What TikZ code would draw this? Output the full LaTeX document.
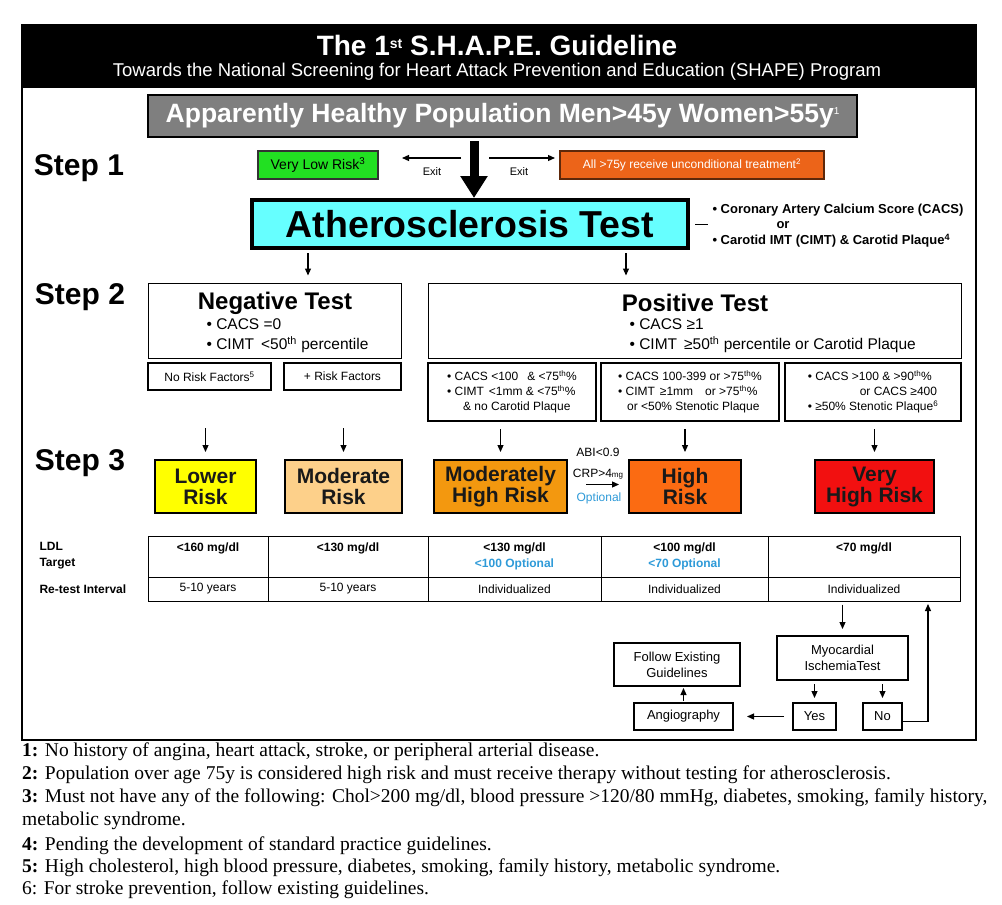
\documentclass[tikz,border=0pt]{standalone}
\usepackage{fontspec}
\setmainfont{Liberation Sans}
\newfontfamily\serifft{Liberation Serif}
\usetikzlibrary{arrows.meta}
\definecolor{popgray}{HTML}{7F7F7F}
\definecolor{vlgreen}{HTML}{22E022}
\definecolor{exitor}{HTML}{EC6419}
\definecolor{athcyan}{HTML}{66FFFF}
\definecolor{lowy}{HTML}{FFFF00}
\definecolor{modor}{HTML}{FDD08A}
\definecolor{mhor}{HTML}{F3980F}
\definecolor{hior}{HTML}{FB6B12}
\definecolor{vhred}{HTML}{F21010}
\definecolor{optblue}{HTML}{2E9AD8}
\newcommand{\fs}[2]{\fontsize{#1}{#2}\selectfont}
\newcommand{\sups}[2]{\raisebox{#1}{\fs{#2}{#2}\textbf{\kern0pt}}}
\newcommand{\bx}[7]{\node[#6, minimum width={#4-#2}, minimum height={#5-#3}, inner sep=0pt] (#1) at ({(#2+#4)/2},{(#3+#5)/2}) {#7};}
\tikzset{
  arr/.style={-{Triangle[length=7pt,width=6pt]}, line width=1.2pt},
  steplbl/.style={font=\fs{30}{34}\bfseries},
  smallbox/.style={draw, line width=2pt, font=\fs{12}{15}},
  risk/.style={draw, line width=2pt, font=\fs{21}{21}\bfseries, align=center, text=black!90},
  cell/.style={draw, line width=1pt, font=\fs{12}{14}},
  valb/.style={font=\fs{12}{16}\bfseries, align=center},
  foot/.style={anchor=west, font=\serifft\fs{19.5}{22}, inner sep=0pt},
}
\begin{document}
\begin{tikzpicture}[x=1pt,y=-1pt]
\useasboundingbox (0,0) rectangle (1002,905);
\fill[white] (0,0) rectangle (1002,905);
% frame and header
\draw[line width=2pt] (22,25) rectangle (976,740);
\bx{header}{22}{25}{976}{88}{fill=black}{}
\node[text=white, font=\fs{28}{30}\bfseries] (title) at (497,45) {The 1\raisebox{7pt}{\fs{14}{14}st} S.H.A.P.E. Guideline};
\node[text=white, font=\fs{18.5}{20}] (subtitle) at (497,72) {Towards the National Screening for Heart Attack Prevention and Education (SHAPE) Program};
% population
\bx{pop}{148}{95}{857}{137}{fill=popgray, draw=black, line width=2.5pt, text=white, font=\fs{26.5}{30}\bfseries}{Apparently Healthy Population Men>45y Women>55y\raisebox{8pt}{\fs{10}{10}\mdseries 1}}
% step labels
\node[steplbl] (s1) at (79,168) {Step 1};
\node[steplbl] (s2) at (80,297) {Step 2};
\node[steplbl] (s3) at (80,463) {Step 3};
% step 1
\bx{vlr}{258}{151}{378}{179}{fill=vlgreen, draw=black!80, line width=1.5pt, font=\fs{14}{16}}{Very Low Risk\textsuperscript{3}}
\bx{allexit}{560}{151}{824}{179}{fill=exitor, draw=black!60!exitor, line width=1.5pt, text=white, font=\fs{12}{14}}{All >75y receive unconditional treatment\textsuperscript{2}}
\coordinate (xl) at (461,158); \coordinate (xle) at (402,158);
\coordinate (xr) at (489,158); \coordinate (xre) at (555,158);
\draw[arr] (xl) -- (xle);
\draw[arr] (xr) -- (xre);
\node[font=\fs{11}{13}] (exit1) at (432,172) {Exit};
\node[font=\fs{11}{13}] (exit2) at (519,172) {Exit};
% atherosclerosis test
\bx{ath}{252}{200}{688}{248}{fill=athcyan, draw=black, line width=4pt, font=\fs{37.5}{40}\bfseries}{Atherosclerosis Test}
\coordinate (bigs) at (474,141);
\draw[line width=9pt, -{Triangle[length=22pt,width=26pt]}] (bigs) -- (bigs |- ath.north);
\draw[line width=1pt] ([xshift=5pt]ath.east) -- ([xshift=18pt]ath.east);
\node[anchor=west, font=\fs{13}{14}\bfseries] (cacs) at (709,210) {\textbullet\ Coronary Artery Calcium Score (CACS)};
\node[font=\fs{13}{14}\bfseries] (ornote) at (783,225) {or};
\node[anchor=west, font=\fs{13}{14}\bfseries] (cimtnote) at (709,241) {\textbullet\ Carotid IMT (CIMT) \& Carotid Plaque\textsuperscript{4}};
% step 2
\bx{neg}{148}{283}{401}{358}{draw, line width=1pt}{}
\node[font=\fs{24}{26}\bfseries] (negt) at (275,303) {Negative Test};
\node[anchor=west, align=left, font=\fs{15.5}{20}] (negb) at (203,336) {\textbullet\ CACS =0\\\textbullet\ CIMT\hspace{7pt}<50\textsuperscript{th} percentile};
\bx{pos}{428}{283}{961}{358}{draw, line width=1pt}{}
\node[font=\fs{24}{26}\bfseries] (post) at (695,303) {Positive Test};
\node[anchor=west, align=left, font=\fs{15.5}{20}] (posb) at (626,336) {\textbullet\ CACS ≥1\\\textbullet\ CIMT\hspace{7pt}≥50\textsuperscript{th} percentile or Carotid Plaque};
\coordinate (d1) at (308,0); \coordinate (d2) at (626,0);
\draw[arr, shorten <=3pt, shorten >=7pt] (ath.south -| d1) -- (neg.north -| d1);
\draw[arr, shorten <=3pt, shorten >=7pt] (ath.south -| d2) -- (pos.north -| d2);
\bx{nrf}{148}{363}{271}{390}{smallbox}{No Risk Factors\textsuperscript{5}}
\bx{prf}{284}{363}{401}{390}{smallbox}{+ Risk Factors}
\bx{p1}{428}{363}{596}{421}{smallbox, align=left}{\textbullet\ CACS <100\hspace{9pt}\& <75\textsuperscript{th}\%\\\textbullet\ CIMT\hspace{5pt}<1mm \& <75\textsuperscript{th}\%\\\hspace{16pt}\& no Carotid Plaque}
\bx{p2}{601}{363}{779}{421}{smallbox, align=left}{\textbullet\ CACS 100-399 or >75\textsuperscript{th}\%\\\textbullet\ CIMT\hspace{5pt}≥1mm\hspace{12pt}or >75\textsuperscript{th}\%\\\hspace{9pt}or <50\% Stenotic Plaque}
\bx{p3}{785}{363}{961}{421}{smallbox, align=left}{\textbullet\ CACS >100 \& >90\textsuperscript{th}\%\\\hspace{52pt}or CACS ≥400\\\textbullet\ ≥50\% Stenotic Plaque\textsuperscript{6}}
% step 3
\bx{low}{155}{460}{256}{513}{risk, fill=lowy}{Lower\\Risk}
\bx{mod}{285}{460}{402}{513}{risk, fill=modor}{Moderate\\Risk}
\bx{mh}{434}{460}{567}{513}{risk, fill=mhor}{Moderately\\High Risk}
\bx{hi}{629}{460}{741}{513}{risk, fill=hior}{High\\Risk}
\bx{vh}{815}{460}{934}{513}{risk, fill=vhred}{Very\\High Risk}
\draw[arr, shorten <=37pt, shorten >=7pt] (nrf.south -| low.north) -- (low.north);
\draw[arr, shorten <=37pt, shorten >=7pt] (prf.south -| mod.north) -- (mod.north);
\draw[arr, shorten <=7pt, shorten >=7pt] (p1.south -| mh.north) -- (mh.north);
\draw[arr, shorten <=7pt, shorten >=7pt] (p2.south -| hi.north) -- (hi.north);
\draw[arr, shorten <=7pt, shorten >=7pt] (p3.south -| vh.north) -- (vh.north);
\node[font=\fs{12}{14}] (abi) at (598,452) {ABI<0.9};
\node[font=\fs{12}{14}] (crp) at (598,474) {CRP>4{\fs{8}{9}mg}};
\draw[arr, shorten <=18pt, shorten >=9pt] ([yshift=2pt]mh.east) -- ([yshift=2pt]hi.west);
\node[font=\fs{12}{14}, text=optblue] (opt) at (599,498) {Optional};
% table
\node[anchor=west, align=left, font=\fs{12}{16}\bfseries] (ldl) at (36,556) {LDL\\Target};
\node[anchor=west, font=\fs{12}{14}\bfseries] (rti) at (36,589) {Re-test Interval};
\bx{l1}{148}{536}{268}{577}{cell}{}
\bx{l2}{268}{536}{428}{577}{cell}{}
\bx{l3}{428}{536}{601}{577}{cell}{}
\bx{l4}{601}{536}{768}{577}{cell}{}
\bx{l5}{768}{536}{960}{577}{cell}{}
\bx{r1}{148}{577}{268}{601}{cell}{5-10 years}
\bx{r2}{268}{577}{428}{601}{cell}{5-10 years}
\bx{r3}{428}{577}{601}{601}{cell}{Individualized}
\bx{r4}{601}{577}{768}{601}{cell}{Individualized}
\bx{r5}{768}{577}{960}{601}{cell}{Individualized}
\node[valb] (t1) at ([yshift=8.5pt]l1.center) {<160 mg/dl};
\node[valb] (t2) at ([yshift=8.5pt]l2.center) {<130 mg/dl};
\node[valb] (t3) at (l3.center) {<130 mg/dl\\\textcolor{optblue}{<100 Optional}};
\node[valb] (t4) at (l4.center) {<100 mg/dl\\\textcolor{optblue}{<70 Optional}};
\node[valb] (t5) at ([yshift=8.5pt]l5.center) {<70 mg/dl};
% bottom flow
\bx{myo}{777}{636}{908}{680}{smallbox, font=\fs{13}{16}, align=center}{Myocardial\\IschemiaTest}
\bx{yes}{793}{703}{836}{730}{smallbox, font=\fs{13}{16}}{Yes}
\bx{no}{863}{703}{902}{730}{smallbox, font=\fs{13}{16}}{No}
\bx{angio}{634}{703}{733}{730}{smallbox, font=\fs{13}{16}}{Angiography}
\bx{follow}{614}{643}{740}{686}{smallbox, font=\fs{13}{16}, align=center}{Follow Existing\\Guidelines}
\draw[arr, shorten <=3pt, shorten >=6pt] (r5.south -| myo.north) -- (myo.north);
\draw[arr, shorten <=3pt, shorten >=4pt] (myo.south -| yes.north) -- (yes.north);
\draw[arr, shorten <=3pt, shorten >=4pt] (myo.south -| no.north) -- (no.north);
\draw[arr, shorten <=8pt, shorten >=13pt] (yes.west) -- (angio.east);
\draw[arr, shorten <=1pt, shorten >=1pt] (angio.north) -- (angio.north |- follow.south);
\coordinate (ret) at (928,604);
\draw[arr] ([yshift=-5pt]no.east) -| (ret);
% footnotes
\node[foot] (f1) at (22,752) {\textbf{1:} No history of angina, heart attack, stroke, or peripheral arterial disease.};
\node[foot] (f2) at (22,775) {\textbf{2:} Population over age 75y is considered high risk and must receive therapy without testing for atherosclerosis.};
\node[foot] (f3) at (22,798) {\textbf{3:} Must not have any of the following: Chol>200 mg/dl, blood pressure >120/80 mmHg, diabetes, smoking, family history,};
\node[foot] (f3b) at (22,821) {metabolic syndrome.};
\node[foot] (f4) at (22,846) {\textbf{4:} Pending the development of standard practice guidelines.};
\node[foot] (f5) at (22,868) {\textbf{5:} High cholesterol, high blood pressure, diabetes, smoking, family history, metabolic syndrome.};
\node[foot] (f6) at (22,890) {6: For stroke prevention, follow existing guidelines.};
\end{tikzpicture}
\end{document}
